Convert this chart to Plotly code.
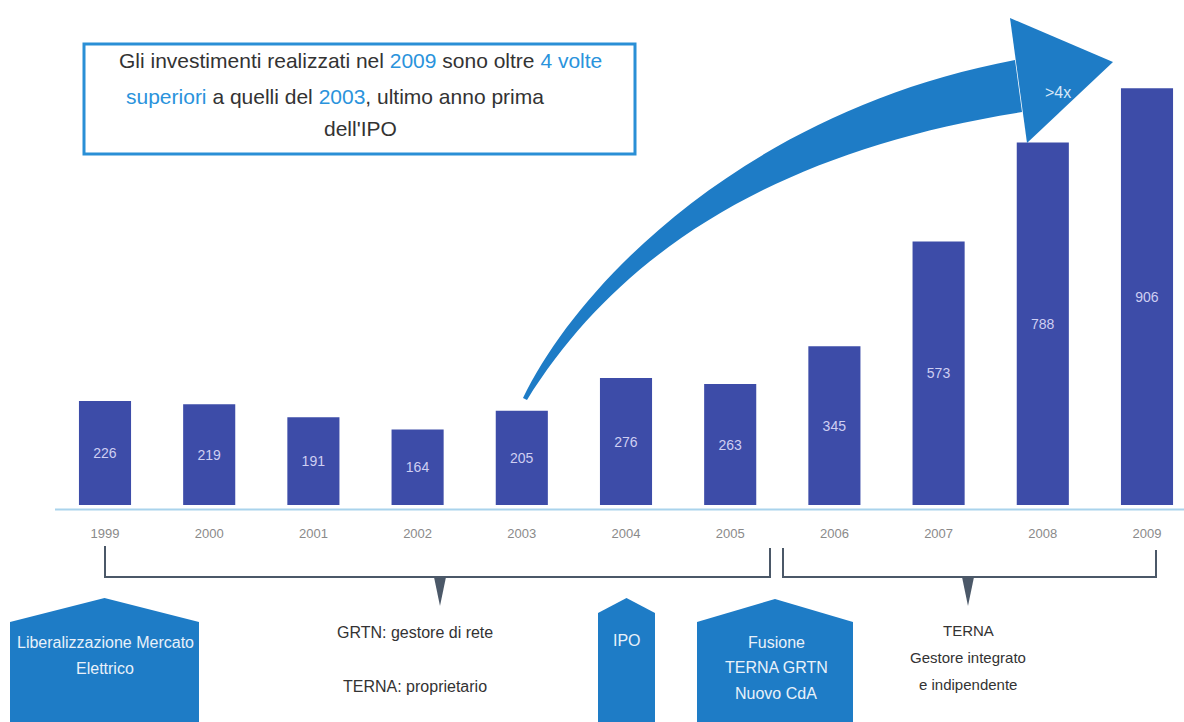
import plotly.graph_objects as go

# ---- data ----
years = ["1999", "2000", "2001", "2002", "2003", "2004", "2005", "2006", "2007", "2008", "2009"]
investments = [226, 219, 191, 164, 205, 276, 263, 345, 573, 788, 906]

W, H = 1184, 722
BAR = "#3d4ca8"
BLUE = "#1e7cc6"
FONT = "Liberation Sans, Arial, sans-serif"


def X(px):
    return px / W


def Y(py):
    return 1 - py / H


def P(pts):
    return " ".join(f"{X(a):.5f},{Y(b):.5f}" for a, b in pts)


px_per_unit = 0.46

fig = go.Figure()
fig.add_trace(go.Bar(
    x=years, y=investments, width=0.5,
    marker=dict(color=BAR, line=dict(width=0)),
    text=[str(v) for v in investments], textposition="inside",
    insidetextanchor="middle", textangle=0,
    textfont=dict(color="#cfcff2", size=14, family=FONT),
    hoverinfo="skip",
))
# year labels below the axis line
fig.add_trace(go.Scatter(
    x=years, y=[-30 / px_per_unit] * len(years), mode="text", text=years,
    textfont=dict(size=13, color="#8a8a8a", family=FONT), hoverinfo="skip",
))

shapes = []
# light axis line
shapes.append(dict(type="line", xref="paper", yref="y", x0=X(55), x1=1, y0=-10, y1=-10,
                   line=dict(color="#a9d3ec", width=2), layer="below"))

# curved arrow shaft
shaft = (f"M {X(523):.5f},{Y(398):.5f} "
         f"C {X(580):.5f},{Y(280):.5f} {X(750):.5f},{Y(110):.5f} {X(1015):.5f},{Y(60):.5f} "
         f"L {X(1022):.5f},{Y(112):.5f} "
         f"C {X(780):.5f},{Y(150):.5f} {X(620):.5f},{Y(250):.5f} {X(527):.5f},{Y(400):.5f} Z")
shapes.append(dict(type="path", xref="paper", yref="paper", path=shaft,
                   fillcolor=BLUE, line=dict(width=0)))
head = "M " + " L ".join(P([p]) for p in [(1010, 18), (1113, 62), (1027, 143)]) + " Z"
shapes.append(dict(type="path", xref="paper", yref="paper", path=head,
                   fillcolor=BLUE, line=dict(width=0)))

# text box
shapes.append(dict(type="rect", xref="paper", yref="paper", x0=X(84), x1=X(635), y0=Y(44), y1=Y(154),
                   fillcolor="white", line=dict(color="#2a8fd6", width=3)))

# brackets
LC = "#4b5868"
br1 = f"M {X(105)},{Y(546)} L {X(105)},{Y(577)} L {X(770)},{Y(577)} L {X(770)},{Y(548)}"
br2 = f"M {X(783)},{Y(548)} L {X(783)},{Y(577)} L {X(1156)},{Y(577)} L {X(1156)},{Y(550)}"
for p in (br1, br2):
    shapes.append(dict(type="path", xref="paper", yref="paper", path=p, line=dict(color=LC, width=2)))
for cx in (440, 968):
    tk = "M " + " L ".join(P([p]) for p in [(cx - 6, 577), (cx, 606), (cx + 6, 577)]) + " Z"
    shapes.append(dict(type="path", xref="paper", yref="paper", path=tk, fillcolor=LC, line=dict(width=0)))


# pentagon boxes
def pent(x0, x1, peak_y, sh_y):
    cx = (x0 + x1) / 2
    pts = [(x0, 730), (x0, sh_y), (cx, peak_y), (x1, sh_y), (x1, 730)]
    return "M " + " L ".join(P([p]) for p in pts) + " Z"


for (a, b, pk, sh) in [(10, 199, 598, 622), (598, 655, 598, 613), (697, 853, 599, 622)]:
    shapes.append(dict(type="path", xref="paper", yref="paper", path=pent(a, b, pk, sh),
                       fillcolor=BLUE, line=dict(width=0)))

fig.update_layout(shapes=shapes)


def txt(x, y, s, size=13, color="#333333"):
    fig.add_annotation(x=X(x), y=Y(y), xref="paper", yref="paper", text=s, showarrow=False,
                       font=dict(size=size, color=color, family=FONT), xanchor="center", yanchor="middle")


LB = "#2a93dc"
TC = "#333333"
txt(360, 61, f"Gli investimenti realizzati nel <span style='color:{LB}'>2009</span> sono oltre "
             f"<span style='color:{LB}'>4 volte</span>", size=21, color=TC)
txt(335, 96, f"<span style='color:{LB}'>superiori</span> a quelli del <span style='color:{LB}'>2003</span>, "
             f"ultimo anno prima", size=21, color=TC)
txt(360, 129, "dell'IPO", size=21, color=TC)

txt(1058, 92, ">4x", size=16, color="#d8e8f8")

WC = "#e8f1fa"
txt(105, 642, "Liberalizzazione Mercato", size=16, color=WC)
txt(105, 668, "Elettrico", size=16, color=WC)
txt(627, 640, "IPO", size=16, color=WC)
txt(776, 642, "Fusione", size=16, color=WC)
txt(776, 667, "TERNA GRTN", size=16, color=WC)
txt(776, 693, "Nuovo CdA", size=16, color=WC)

txt(415, 632, "GRTN: gestore di rete", size=16)
txt(415, 686, "TERNA: proprietario", size=16)
txt(968, 630, "TERNA", size=15)
txt(968, 657, "Gestore integrato", size=15)
txt(968, 684, "e indipendente", size=15)

fig.update_layout(
    width=W, height=H, margin=dict(l=0, r=0, t=0, b=0),
    paper_bgcolor="white", plot_bgcolor="white", showlegend=False,
    xaxis=dict(range=[-105 / 104.2, (W - 105) / 104.2], showgrid=False, zeroline=False,
               showticklabels=False, showline=False, fixedrange=True),
    yaxis=dict(range=[-(H - 505) / px_per_unit, 505 / px_per_unit], showgrid=False, zeroline=False,
               showticklabels=False, showline=False, fixedrange=True),
    bargap=0.5,
)

fig.write_html("out.html")
